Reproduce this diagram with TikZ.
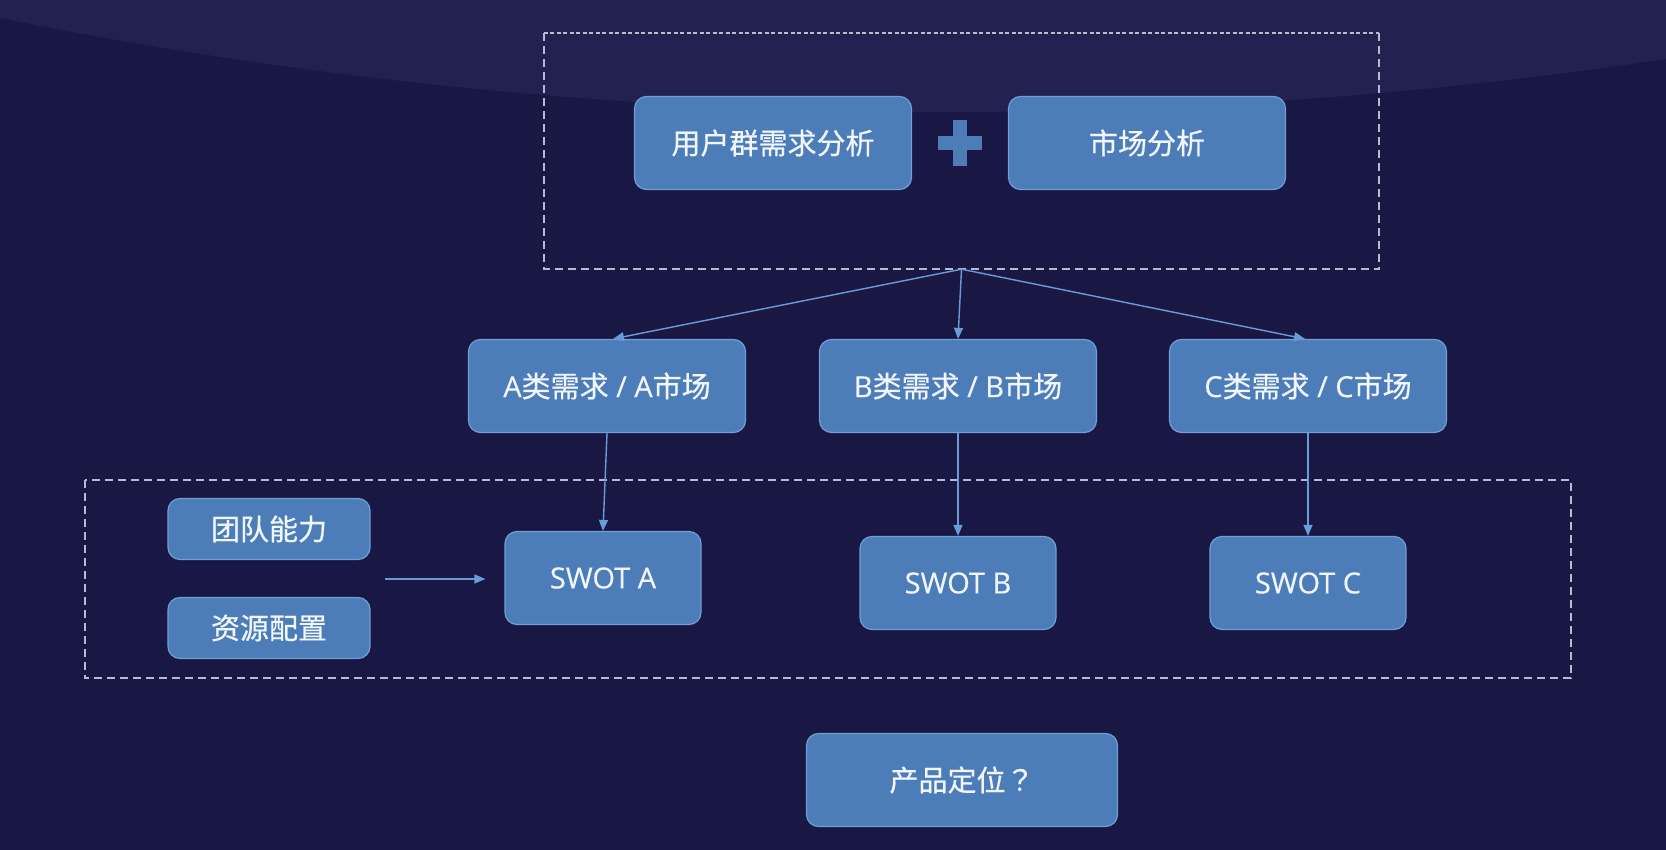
\documentclass[tikz,border=0pt]{standalone}
\usepackage{fontspec}
\setmainfont{Noto Sans CJK SC}[BoldFont={Noto Sans CJK SC}, BoldFeatures={FakeBold=0.6}]
\newfontfamily\latfont{Open Sans}[BoldFont={Open Sans}, BoldFeatures={FakeBold=0.4}]
\newfontfamily\tcfont{Noto Sans CJK TC}[BoldFont={Noto Sans CJK TC}, BoldFeatures={FakeBold=0.6}]
\newcommand{\lt}[1]{{\latfont #1}}
\usetikzlibrary{arrows.meta}
\definecolor{bg}{RGB}{25,24,68}
\definecolor{bgarc}{RGB}{35,33,80}
\definecolor{boxfill}{RGB}{76,125,184}
\definecolor{boxline}{RGB}{112,158,214}
\definecolor{dashc}{RGB}{185,186,208}
\definecolor{arrc}{RGB}{105,155,215}
\definecolor{txt}{RGB}{242,246,255}
\tikzset{
  bluebox/.style={draw=boxline, line width=1.2pt, fill=boxfill, rounded corners=12pt,
    inner sep=0pt, text=txt, font=\fontsize{29}{33}\selectfont\bfseries},
  bigbox/.style={bluebox, minimum width=277pt, minimum height=93pt},
  swotbox/.style={bluebox, minimum width=196pt, minimum height=93pt},
  smallbox/.style={bluebox, minimum width=202pt, minimum height=61pt},
  dashedge/.style={draw=dashc, line width=2pt, dash pattern=on 8pt off 5pt},
  dotedge/.style={draw=dashc, line width=2.2pt, dash pattern=on 4pt off 2.5pt},
  arr/.style={draw=arrc, line width=1.4pt, -{Triangle[length=11pt,width=9pt]}},
  frame/.style={inner sep=0pt, draw=none}
}
\begin{document}
\begin{tikzpicture}[x=1pt,y=-1pt]
\useasboundingbox (0,0) rectangle (1666,850);
\fill[bg] (0,0) rectangle (1666,850);
\begin{scope}
  \clip (0,0) rectangle (1666,850);
  \fill[bgarc] (950,-4688) circle (4800pt);
\end{scope}

% frames
\node[frame, minimum width=835pt, minimum height=236pt] (topbox) at (961.5,151) {};
\draw[dotedge] (topbox.north west) -- (topbox.north east);
\draw[dashedge] (topbox.north east) -- (topbox.south east) -- (topbox.south west) -- (topbox.north west);
\node[frame, minimum width=1486pt, minimum height=198pt] (botbox) at (828,579) {};
\draw[dashedge] (botbox.north west) rectangle (botbox.south east);

% top row
\node[bigbox] (user) at (773,143) {用户群需求分析};
\node[bigbox] (market) at (1147,143) {市场分析};
\node[fill=boxfill, minimum width=44pt, minimum height=14pt, inner sep=0pt] (plush) at (960,143) {};
\node[fill=boxfill, minimum width=14pt, minimum height=46pt, inner sep=0pt] (plusv) at (960,143) {};

% middle row
\node[bigbox] (ma) at (607,386) {\lt{A}类需求\lt{ / A}市场};
\node[bigbox] (mb) at (958,386) {\lt{B}类需求\lt{ / B}市场};
\node[bigbox] (mc) at (1308,386) {\lt{C}类需求\lt{ / C}市场};

% swot row
\node[smallbox] (team) at (269,529) {团队能力};
\node[smallbox] (res) at (269,628) {资源配置};
\node[swotbox] (sa) at (603,578) {\lt{SWOT A}};
\node[swotbox] (sb) at (958,583) {\lt{SWOT B}};
\node[swotbox] (sc) at (1308,583) {\lt{SWOT C}};

% bottom
\node[bluebox, minimum width=311pt, minimum height=93pt] (pos) at (962,780) {产品定位{\tcfont ？}};

% connectors
\draw[arr] (topbox.south) -- ([xshift=6pt]ma.north);
\draw[arr] (topbox.south) -- (mb.north);
\draw[arr] (topbox.south) -- ([xshift=-3pt]mc.north);
\draw[arr] (ma.south) -- (sa.north);
\draw[arr] (mb.south) -- (sb.north);
\draw[arr] (mc.south) -- (sc.north);
\coordinate (la) at (385,579);
\draw[arr, shorten >=19pt] (la) -- (sa.west |- la);
\end{tikzpicture}
\end{document}
